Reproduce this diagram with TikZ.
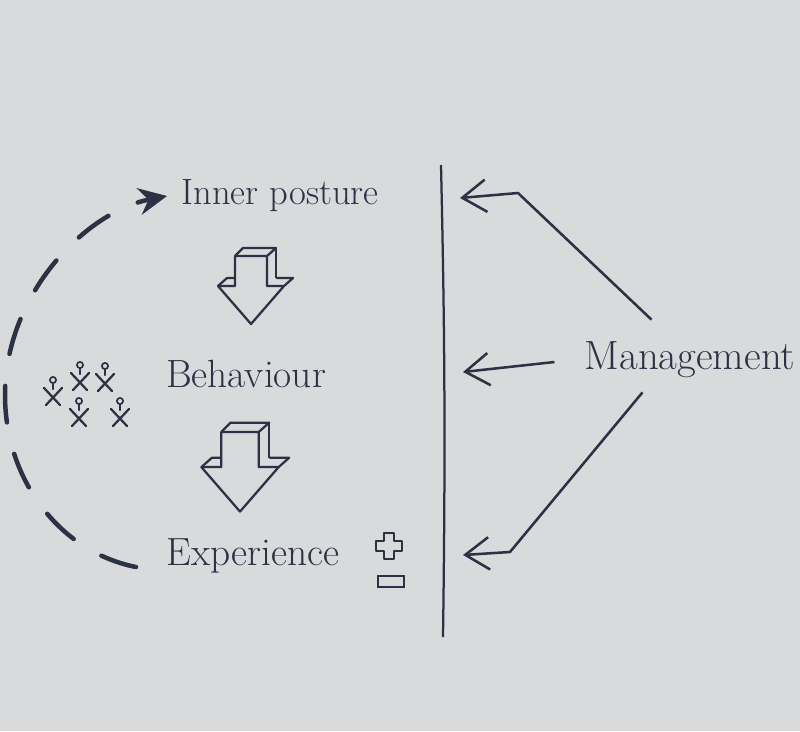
\documentclass[tikz,border=0pt]{standalone}
\usepackage{tikz}
\usetikzlibrary{arrows.meta, positioning}
\definecolor{paper}{RGB}{216,218,219}
\definecolor{ink}{RGB}{44,49,68}
\tikzstyle{stage} = [ink, inner sep=0, font=\fontsize{28pt}{32pt}\selectfont]
\tikzstyle{feedback} = [ink, line width=3.2pt, line cap=round, dash pattern=on 26pt off 23pt, -{Stealth[length=20pt, width=19pt]}]
\tikzstyle{steer} = [ink, line width=1.8pt, line join=round, -{Straight Barb[length=17pt, width=23pt]}]
\tikzstyle{wall} = [ink, line width=1.6pt]
\tikzset{
  blockarrow/.pic={
    \draw[ink, line width=1.6pt, line join=round]
      (-16,0) -- (16,0) -- (16,30) -- (33,30) -- (0,68) -- (-33,30) -- (-16,30) -- cycle;
    \draw[ink, line width=1.6pt, line join=round] (-16,0) -- (-8,-8) -- (25,-8) -- (16,0);
    \draw[ink, line width=1.6pt] (25,-8) -- (25,22);
    \draw[ink, line width=1.6pt, line join=round] (-33,30) -- (-24,22) -- (-16,22);
    \draw[ink, line width=1.6pt, line join=round] (25,22) -- (42,22) -- (33,30);
  },
  person/.pic={
    \draw[ink, line width=1.2pt] (0,-14) circle[radius=2.2pt];
    \draw[ink, line width=1.6pt, line cap=round] (0,-11) -- (0,-5);
    \draw[ink, line width=1.6pt, line cap=round] (-9,-6) -- (7,11);
    \draw[ink, line width=1.6pt, line cap=round] (9,-6) -- (-7,11);
  }
}

\begin{document}
\begin{tikzpicture}[x=0.025cm, y=-0.025cm]
    % paper
    \fill[paper] (0,0) rectangle (800,731);
    \useasboundingbox (0,0) rectangle (800,731);

    % stages
    \node[stage, font=\fontsize{26pt}{30pt}\selectfont] at (280,196) (inner) {Inner posture};
    \node[stage] at (246,374) (behaviour)  {Behaviour};
    \node[stage] at (253,556) (experience) {Experience};
    \node[stage, font=\fontsize{29pt}{33pt}\selectfont] at (690,360) (management) {Management};

    % block arrows between stages
    \pic at (251,256) {blockarrow};
    \pic[scale=1.17] at (240,432) {blockarrow};

    % people
    \foreach \px/\py in {53/394, 80/379, 105/380, 79/415, 120/415}
      \pic at (\px,\py) {person};

    % plus and minus
    \draw[ink, line width=1.6pt, line join=round] (389,546)
      ++(-5,-13) -- ++(10,0) -- ++(0,8) -- ++(8,0) -- ++(0,10) -- ++(-8,0)
      -- ++(0,8) -- ++(-10,0) -- ++(0,-8) -- ++(-8,0) -- ++(0,-10) -- ++(8,0) -- cycle;
    \draw[ink, line width=1.6pt] (378,576) rectangle (404,587);

    % feedback loop
    \coordinate (loopstart) at (136,567);
    \coordinate (loopleft)  at (5,395);
    \draw[feedback] (loopstart) .. controls (60,552) and (5,480) .. (loopleft)
      .. controls (5,295) and (85,212) .. ([xshift=-10pt]inner.west);

    % boundary
    \coordinate (walltop)    at (441,165);
    \coordinate (wallbottom) at (443,637);
    \draw[wall] (walltop) .. controls (444,300) and (446,420) .. (wallbottom);

    % management arrows
    \coordinate (target1) at (460,198);
    \coordinate (target2) at (463,372);
    \coordinate (target3) at (463,555);
    \draw[steer] ([shift={(67,-22)}]management.north west) -- (518,193) -- (target1);
    \draw[steer] ([shift={(-30,2)}]management.west) -- (target2);
    \draw[steer] ([shift={(58,14)}]management.south west) -- (510,552) -- (target3);
  \end{tikzpicture}
\end{document}
